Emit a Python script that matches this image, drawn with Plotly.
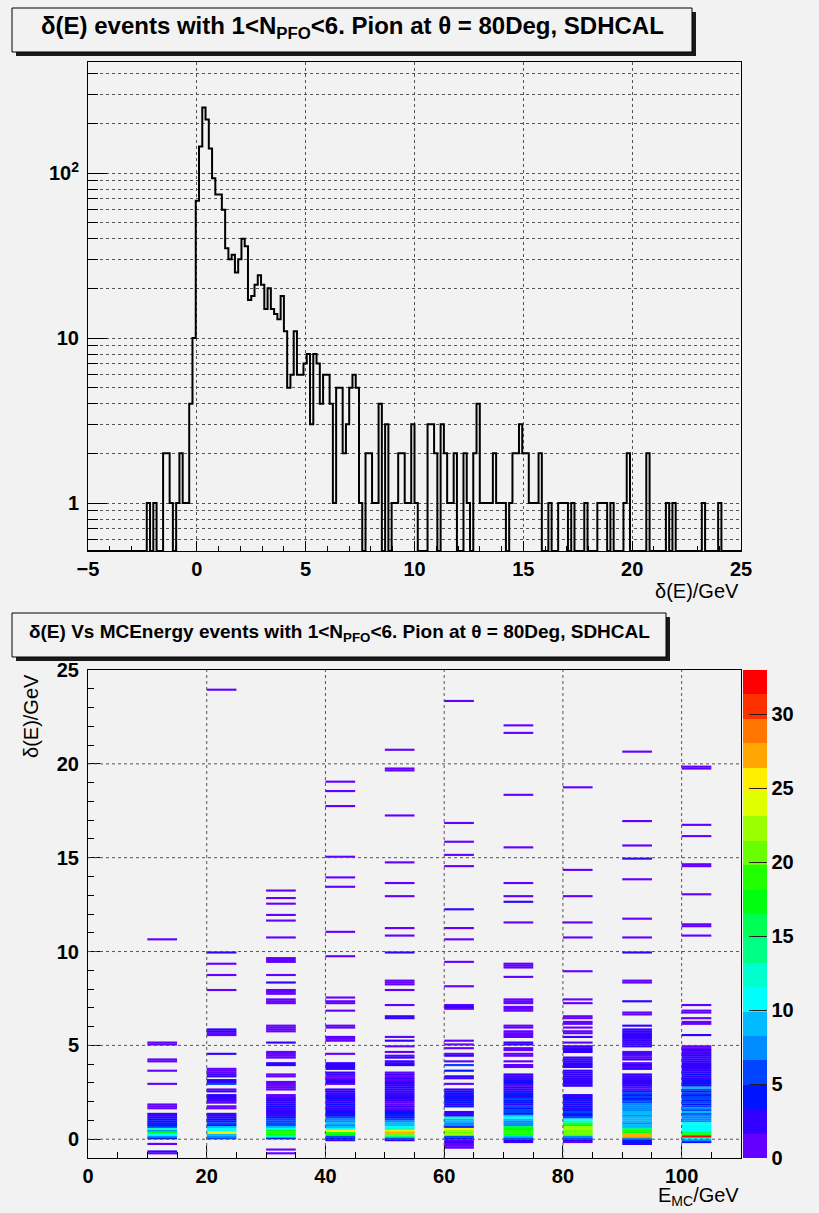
import colorsys
import math
import plotly.graph_objects as go

W, H = 819, 1213
FONT = "Liberation Sans, Arial, Helvetica, sans-serif"
BG = "#f2f2f2"

# ---------------- top histogram: delta(E) ----------------
hist_lo, hist_hi, hist_nbins = -5.0, 25.0, 200
hist_counts = [
    0, 0, 0, 0, 0, 0, 0, 0, 0, 0, 0, 0, 0, 0, 0, 0, 0, 0, 1, 0,
    1, 0, 0, 2, 2, 1, 0, 1, 2, 1, 1, 4, 10, 68, 145, 250, 211, 141, 93, 74,
    74, 60, 35, 30, 32, 25, 30, 40, 36, 17, 18, 21, 24, 21, 15, 20, 15, 14, 13, 18,
    11, 5, 6, 11, 6, 6, 7, 8, 3, 8, 7, 4, 6, 6, 4, 1, 5, 5, 2, 3,
    5, 6, 5, 1, 0, 2, 2, 1, 1, 4, 0, 3, 0, 1, 1, 2, 2, 1, 1, 3,
    1, 0, 0, 0, 3, 3, 2, 0, 3, 2, 1, 1, 2, 0, 0, 2, 1, 0, 2, 4,
    1, 1, 1, 1, 2, 1, 1, 1, 0, 1, 2, 2, 3, 2, 2, 1, 1, 1, 2, 0,
    0, 1, 0, 0, 1, 1, 1, 0, 1, 0, 0, 0, 1, 0, 0, 0, 1, 1, 1, 0,
    1, 0, 0, 0, 1, 2, 0, 0, 0, 0, 0, 2, 0, 0, 0, 0, 0, 1, 0, 1,
    0, 0, 0, 0, 0, 0, 0, 0, 1, 0, 0, 0, 0, 1, 0, 0, 0, 0, 0, 0,
]
hist_ymin, hist_ymax = 0.512, 471.0
hist_xticks = [-5, 0, 5, 10, 15, 20, 25]
hist_yticks = [1, 10, 100]
hist_yticktext = ["1", "10", "10<sup>2</sup>"]
hist_yminor = [0.6, 0.7, 0.8, 0.9, 2, 3, 4, 5, 6, 7, 8, 9,
               20, 30, 40, 50, 60, 70, 80, 90, 200, 300, 400]

# ---------------- 2D map: delta(E) vs E_MC ----------------
e_lo, e_hi, e_w = 0.0, 110.0, 5.0
d_lo, d_hi, d_w = -1.0, 25.0, 0.1
z_max = 33
energies = [10, 20, 30, 40, 50, 60, 70, 80, 90, 100]
# (lower edge of delta(E) bin, entries)
e10 = [(10.6, 1), (5.1, 1), (5.0, 1), (4.2, 1), (4.1, 1), (3.6, 1), (2.9, 1), (1.8, 1), (1.7, 1), (1.6, 1),
       (1.3, 2), (1.2, 2), (1.1, 3), (1.0, 4), (0.9, 4), (0.8, 3), (0.7, 4), (0.6, 5), (0.5, 12), (0.4, 7),
       (0.3, 17), (0.2, 10), (0.1, 7), (0.0, 4), (-0.3, 1), (-0.7, 2), (-0.8, 1)]
e20 = [(23.9, 1), (9.9, 2), (9.3, 1), (8.7, 1), (7.9, 1), (5.8, 2), (5.7, 2), (5.6, 1), (5.5, 1), (4.5, 2),
       (3.7, 1), (3.6, 1), (3.5, 1), (3.4, 2), (3.3, 2), (3.1, 3), (3.0, 3), (2.9, 5), (2.6, 1), (2.5, 2),
       (2.3, 2), (2.2, 3), (2.1, 2), (2.0, 2), (1.9, 1), (1.7, 1), (1.6, 1),
       (1.3, 2), (1.2, 3), (1.1, 3), (1.0, 4), (0.9, 3), (0.8, 5), (0.7, 4), (0.6, 9), (0.5, 10), (0.4, 11),
       (0.3, 25), (0.2, 9), (0.1, 7), (0.0, 6)]
e30 = [(13.2, 1), (12.8, 1), (12.5, 1), (11.9, 1), (11.6, 1), (10.7, 1), (9.6, 1), (9.5, 1), (9.4, 1), (8.7, 1),
       (8.3, 2), (7.9, 1), (7.8, 1), (7.7, 1), (7.4, 1), (7.3, 1), (7.2, 1), (6.0, 1), (5.9, 1), (5.8, 1),
       (5.7, 1), (5.1, 2), (4.6, 1), (4.5, 1), (4.4, 1), (4.3, 1), (4.0, 2), (3.9, 2), (3.4, 1), (3.3, 1),
       (3.0, 1), (2.9, 1), (2.8, 1), (2.7, 1), (2.6, 1),
       (2.3, 1), (2.2, 1), (2.1, 2), (2.0, 2), (1.9, 2), (1.8, 2), (1.7, 4), (1.6, 3), (1.5, 2), (1.4, 3),
       (1.3, 3), (1.2, 2), (1.1, 4), (1.0, 6), (0.9, 6), (0.8, 6), (0.7, 5), (0.6, 9), (0.5, 10), (0.4, 18),
       (0.3, 19), (0.2, 17), (0.1, 13), (0.0, 4), (-0.6, 1), (-0.8, 1)]
e40 = [(19.0, 1), (18.5, 1), (17.7, 1), (15.0, 1), (13.9, 1), (13.4, 1), (11.0, 1), (9.7, 1),
       (7.5, 1), (7.3, 1), (7.2, 1), (6.8, 1), (6.0, 1), (5.9, 1), (5.4, 1), (5.3, 1), (5.2, 1), (4.5, 1),
       (4.0, 2), (3.9, 2), (3.8, 2), (3.7, 2), (3.5, 2), (3.4, 2), (3.3, 1), (3.2, 1), (3.1, 2), (3.0, 2), (2.9, 1),
       (2.6, 2), (2.5, 3), (2.4, 2), (2.3, 3), (2.2, 3), (2.1, 4), (2.0, 3), (1.9, 3), (1.8, 4), (1.7, 3),
       (1.6, 2), (1.5, 3), (1.4, 4), (1.3, 3), (1.2, 4), (1.1, 5), (1.0, 7), (0.9, 7), (0.8, 9), (0.7, 8),
       (0.6, 9), (0.5, 10), (0.4, 25), (0.3, 19), (0.2, 18), (0.1, 6), (0.0, 4), (-0.1, 2)]
e50 = [(20.7, 1), (19.7, 1), (19.6, 1), (17.2, 1), (14.7, 1), (13.6, 1), (12.9, 1), (11.2, 1), (10.8, 1), (9.9, 2),
       (8.4, 1), (8.3, 1), (8.2, 1), (7.9, 1), (7.1, 1), (6.5, 2), (6.4, 2), (5.4, 1), (5.2, 2), (4.9, 1),
       (4.6, 1), (4.4, 1), (4.3, 2), (4.1, 2), (4.0, 2), (3.9, 2),
       (3.5, 1), (3.4, 2), (3.3, 1), (3.2, 2), (3.1, 1), (3.0, 2), (2.9, 3), (2.8, 2), (2.7, 3), (2.6, 3),
       (2.5, 2), (2.4, 3), (2.3, 3), (2.2, 2), (2.1, 3), (2.0, 2), (1.9, 1), (1.8, 1), (1.7, 2), (1.6, 1),
       (1.5, 3), (1.4, 4), (1.3, 4), (1.2, 3), (1.1, 4), (1.0, 5), (0.9, 7), (0.8, 9), (0.7, 9), (0.6, 10),
       (0.5, 12), (0.4, 25), (0.3, 28), (0.2, 20), (0.1, 14), (0.0, 5), (-0.1, 3)]
e60 = [(23.3, 1), (16.8, 1), (15.8, 1), (15.1, 1), (14.5, 1), (12.2, 2), (11.2, 1), (10.6, 1), (9.4, 1), (8.1, 1),
       (7.1, 1), (7.0, 2), (6.9, 1), (5.2, 1), (5.0, 1), (4.8, 1), (4.5, 1), (4.4, 2), (4.1, 1), (3.9, 5),
       (3.6, 4), (3.3, 3), (3.2, 3), (2.9, 1),
       (2.6, 2), (2.5, 3), (2.4, 4), (2.3, 3), (2.2, 4), (2.1, 3), (2.0, 4), (1.9, 4), (1.8, 3), (1.7, 4),
       (1.4, 3), (1.3, 3), (1.2, 2), (1.1, 12), (1.0, 9), (0.9, 9), (0.8, 8), (0.7, 7), (0.6, 4), (0.5, 25),
       (0.4, 22), (0.3, 21), (0.2, 22), (0.1, 5), (0.0, 4),
       (-0.1, 1), (-0.2, 2), (-0.3, 1), (-0.4, 1), (-0.5, 1)]
e70 = [(22.0, 1), (21.6, 1), (18.3, 1), (15.5, 1), (13.6, 1), (12.9, 1), (12.6, 2), (11.5, 1), (9.3, 1), (9.2, 1),
       (9.1, 1), (8.6, 1), (7.4, 1), (7.3, 1), (7.2, 1), (7.0, 1), (6.9, 1), (6.8, 1), (6.0, 1), (5.9, 1),
       (5.7, 1), (5.6, 1), (5.5, 1), (5.4, 1), (5.1, 2), (5.0, 2), (4.8, 1), (4.7, 1), (4.5, 1), (4.4, 1),
       (4.1, 1), (3.9, 1), (3.8, 1),
       (3.4, 2), (3.3, 2), (3.2, 3), (3.1, 3), (3.0, 4), (2.9, 2), (2.8, 1), (2.7, 2), (2.6, 3), (2.5, 3),
       (2.4, 4), (2.3, 4), (2.2, 3), (2.1, 5), (2.0, 4), (1.9, 4), (1.8, 3), (1.7, 5), (1.6, 4), (1.5, 5),
       (1.4, 5), (1.3, 4), (1.2, 9), (1.1, 10), (1.0, 9), (0.9, 7), (0.8, 8), (0.7, 7), (0.6, 15), (0.5, 18),
       (0.4, 19), (0.3, 19), (0.2, 18), (0.1, 9), (0.0, 5), (-0.1, 3), (-0.2, 2)]
e80 = [(18.7, 1), (14.3, 1), (12.9, 1), (11.5, 1), (10.7, 1), (8.9, 1),
       (7.4, 1), (7.2, 1), (6.5, 1), (6.4, 1), (6.2, 1), (6.1, 1), (5.9, 1), (5.7, 1), (5.6, 1), (5.4, 2),
       (5.1, 1), (4.9, 2), (4.8, 2), (4.7, 2), (4.6, 2),
       (4.3, 2), (4.2, 2), (4.1, 2), (4.0, 2), (3.9, 2), (3.8, 2), (3.6, 2), (3.5, 3), (3.4, 2), (3.3, 3),
       (3.2, 2), (3.1, 2), (3.0, 3), (2.9, 2), (2.8, 2),
       (2.3, 2), (2.2, 3), (2.1, 4), (2.0, 3), (1.9, 4), (1.8, 3), (1.7, 4), (1.6, 3), (1.5, 4), (1.4, 5),
       (1.3, 4), (1.2, 4), (1.1, 5), (1.0, 10), (0.9, 13), (0.8, 14), (0.7, 17), (0.6, 22), (0.5, 23),
       (0.4, 21), (0.3, 21), (0.2, 20), (0.1, 7), (0.0, 6), (-0.1, 2), (-0.2, 1)]
e90 = [(20.6, 1), (16.9, 1), (15.6, 1), (14.9, 2), (13.8, 1), (11.7, 1), (10.7, 1), (9.9, 2), (8.4, 1), (8.3, 1),
       (7.3, 2), (6.7, 1), (6.6, 1), (6.0, 2), (5.8, 2), (5.7, 3), (5.6, 2), (5.5, 3), (5.4, 2), (5.3, 3),
       (5.2, 3), (5.1, 2), (5.0, 3), (4.9, 3), (4.6, 1), (4.5, 2), (4.4, 1), (4.3, 1), (4.2, 2), (4.0, 1),
       (3.9, 2), (3.8, 1), (3.7, 2),
       (3.4, 2), (3.3, 3), (3.2, 2), (3.1, 3), (3.0, 2), (2.9, 3), (2.8, 3), (2.7, 1), (2.6, 1), (2.5, 4),
       (2.4, 5), (2.3, 4), (2.2, 5), (2.1, 4), (2.0, 5), (1.9, 6), (1.8, 7), (1.7, 7), (1.6, 8), (1.5, 8),
       (1.4, 9), (1.3, 9), (1.2, 8), (1.1, 9), (1.0, 9), (0.9, 9), (0.8, 8), (0.7, 9), (0.6, 9), (0.5, 14),
       (0.4, 19), (0.3, 18), (0.2, 27), (0.1, 28), (0.0, 7), (-0.1, 4), (-0.2, 4), (-0.3, 3)]
e100 = [(19.8, 1), (19.7, 1), (16.7, 1), (16.1, 1), (14.6, 1), (14.5, 1), (13.0, 1), (11.4, 1), (11.3, 1), (10.8, 1),
        (7.1, 1), (6.8, 1), (6.7, 1), (6.4, 1), (6.2, 1), (6.1, 1), (5.5, 2),
        (4.9, 1), (4.8, 1), (4.7, 2), (4.6, 1), (4.5, 2), (4.4, 2), (4.3, 3), (4.2, 3), (4.1, 3), (4.0, 2),
        (3.9, 3), (3.8, 3), (3.7, 2), (3.6, 3), (3.5, 3), (3.4, 4), (3.3, 3), (3.2, 2), (3.1, 4), (3.0, 2),
        (2.9, 4), (2.8, 3), (2.7, 9), (2.6, 5), (2.5, 4), (2.4, 5), (2.3, 4), (2.2, 5), (2.1, 5), (2.0, 4),
        (1.9, 5), (1.8, 4), (1.7, 5), (1.6, 7), (1.5, 5), (1.4, 9), (1.3, 5), (1.2, 7), (1.1, 7), (1.0, 7),
        (0.9, 7), (0.8, 11), (0.7, 10), (0.6, 11), (0.5, 11), (0.4, 11), (0.3, 16), (0.2, 19), (0.1, 33),
        (0.0, 11), (-0.1, 7), (-0.2, 4)]
columns = [e10, e20, e30, e40, e50, e60, e70, e80, e90, e100]
map_xticks = [0, 20, 40, 60, 80, 100]
map_yticks = [0, 5, 10, 15, 20, 25]
cbar_ticks = [0, 5, 10, 15, 20, 25, 30]

# ---------------- helpers ----------------
def px(x):
    return x / W

def py(y):
    return 1 - y / H

MAP_TOP, MAP_BOT = 670, 1158

# ROOT "pretty" palette, 20 contour bands
n_bands = 20
band_colors = []
for j in range(n_bands):
    idx = int((j + 0.99) * 50 / n_bands)
    hue = 280 - (idx + 1) * 5.6
    r, g, b = colorsys.hls_to_rgb(hue / 360.0, 0.5, 1.0)
    band_colors.append("rgb(%d,%d,%d)" % (round(r * 255), round(g * 255), round(b * 255)))
colorscale = []
for j, c in enumerate(band_colors):
    colorscale.append([j / n_bands, c])
    colorscale.append([(j + 1) / n_bands, c])

# histogram step outline
hist_w = (hist_hi - hist_lo) / hist_nbins
hx = [hist_lo + i * hist_w for i in range(hist_nbins + 1)]
hy = [c if c > 0 else hist_ymin for c in hist_counts]
hy = hy + [hy[-1]]

fig = go.Figure()
fig.add_trace(go.Scatter(x=hx, y=hy, mode="lines", line=dict(shape="hv", color="black", width=2),
                         xaxis="x", yaxis="y", showlegend=False, hoverinfo="skip"))

# 2D map cells: each filled (E, delta) bin drawn as a horizontal segment one bin thick,
# coloured by its contour band
band_w = z_max / n_bands
cell_px = (MAP_BOT - MAP_TOP) / ((d_hi - d_lo) / d_w)
groups = {}
for E, col in zip(energies, columns):
    agg = {}
    for yv, n in col:
        key = int(round((yv - d_lo) / d_w))
        agg[key] = agg.get(key, 0) + n
    for key, n in agg.items():
        j = min(int(n / band_w), n_bands - 1)
        ycen = d_lo + (key + 0.5) * d_w
        gx, gy = groups.setdefault(j, ([], []))
        gx.extend([E, E + e_w, None])
        gy.extend([ycen, ycen, None])
for j in sorted(groups):
    gx, gy = groups[j]
    fig.add_trace(go.Scatter(x=gx, y=gy, mode="lines", xaxis="x2", yaxis="y2",
                             line=dict(color=band_colors[j], width=cell_px + 0.25),
                             showlegend=False, hoverinfo="skip"))

# colour scale (palette axis)
fig.add_trace(go.Scatter(
    x=[e_lo - 50], y=[d_lo - 50], mode="markers", xaxis="x2", yaxis="y2", showlegend=False,
    hoverinfo="skip",
    marker=dict(color=[0], cmin=0, cmax=z_max, colorscale=colorscale, size=2, showscale=True,
                colorbar=dict(x=px(743), xanchor="left", xref="paper", xpad=0, ypad=0,
                              y=py(MAP_BOT), yanchor="bottom", len=(MAP_BOT - MAP_TOP) / H,
                              lenmode="fraction", thickness=24, thicknessmode="pixels",
                              outlinewidth=0, tickmode="array", tickvals=cbar_ticks,
                              ticks="inside", ticklen=18, tickcolor="#222", tickwidth=1,
                              tickfont=dict(family=FONT, size=20, color="black", weight="bold")))))

axis_common = dict(showline=True, linecolor="black", linewidth=1, mirror=True, zeroline=False,
                   gridcolor="#555", griddash="dot", gridwidth=1,
                   ticks="inside", tickcolor="black", automargin=False,
                   tickfont=dict(family=FONT, size=20, color="black", weight="bold"))

fig.update_layout(
    width=W, height=H, margin=dict(l=0, r=0, t=0, b=0, autoexpand=False),
    paper_bgcolor=BG, plot_bgcolor=BG, showlegend=False,
    xaxis=dict(domain=[px(88), px(741)], range=[hist_lo, hist_hi], anchor="y", showgrid=True,
               tickmode="array", tickvals=hist_xticks, ticklen=10,
               minor=dict(dtick=1, ticklen=5, showgrid=False, ticks="inside", tickcolor="black"),
               **axis_common),
    yaxis=dict(domain=[py(551), py(62)], type="log", anchor="x", showgrid=True,
               range=[math.log10(hist_ymin), math.log10(hist_ymax)],
               tickmode="array", tickvals=hist_yticks, ticktext=hist_yticktext, ticklen=19,
               ticklabelstandoff=4,
               minor=dict(tickmode="array", tickvals=hist_yminor, ticklen=10, ticks="inside",
                          tickcolor="black", showgrid=True, gridcolor="#555", griddash="dot"),
               **axis_common),
    xaxis2=dict(domain=[px(88), px(741)], range=[e_lo, e_hi], anchor="y2", showgrid=False,
                tickmode="array", tickvals=map_xticks, ticklen=12,
                minor=dict(dtick=5, ticklen=6, showgrid=False, ticks="inside", tickcolor="black"),
                **axis_common),
    yaxis2=dict(domain=[py(MAP_BOT), py(MAP_TOP)], range=[d_lo, d_hi], anchor="x2", showgrid=False,
                tickmode="array", tickvals=map_yticks, ticklen=12, ticklabelstandoff=4,
                minor=dict(dtick=1, ticklen=6, showgrid=False, ticks="inside", tickcolor="black"),
                **axis_common),
)

shapes = []
annotations = []

# grid of the 2D map drawn above the cells (as ROOT does)
for gxv in map_xticks[1:]:
    shapes.append(dict(type="line", xref="x2", yref="y2 domain", x0=gxv, x1=gxv, y0=0, y1=1,
                       layer="above", line=dict(color="#555", width=1, dash="dot")))
for gyv in map_yticks[:-1]:
    shapes.append(dict(type="line", xref="x2 domain", yref="y2", x0=0, x1=1, y0=gyv, y1=gyv,
                       layer="above", line=dict(color="#555", width=1, dash="dot")))

def title_box(x0, y0, x1, y1, text, size):
    shapes.append(dict(type="rect", xref="paper", yref="paper", x0=px(x0 + 4), x1=px(x1 + 4),
                       y0=py(y1 + 4), y1=py(y0 + 4), fillcolor="#1a1a1a", line=dict(width=0)))
    shapes.append(dict(type="rect", xref="paper", yref="paper", x0=px(x0), x1=px(x1),
                       y0=py(y1), y1=py(y0), fillcolor=BG, line=dict(color="black", width=1)))
    annotations.append(dict(xref="paper", yref="paper", x=px((x0 + x1) / 2), y=py((y0 + y1) / 2 - 2),
                            xanchor="center", yanchor="middle", showarrow=False, text=text,
                            font=dict(family=FONT, size=size, color="black", weight="bold")))

title_box(12, 8, 692, 52,
          "δ(E) events with 1&lt;N<sub>PFO</sub>&lt;6. Pion at θ = 80Deg, SDHCAL", 24)
title_box(12, 613, 666, 657,
          "δ(E) Vs MCEnergy events with 1&lt;N<sub>PFO</sub>&lt;6. Pion at θ = 80Deg, SDHCAL", 19)

annotations.append(dict(xref="paper", yref="paper", x=px(741), y=py(591), xanchor="right",
                        yanchor="middle", showarrow=False, text="δ(E)/GeV",
                        font=dict(family=FONT, size=20, color="black")))
annotations.append(dict(xref="paper", yref="paper", x=px(741), y=py(1196), xanchor="right",
                        yanchor="middle", showarrow=False, text="E<sub>MC</sub>/GeV",
                        font=dict(family=FONT, size=20, color="black")))
annotations.append(dict(xref="paper", yref="paper", x=px(31), y=py(672), xanchor="center",
                        yanchor="top", showarrow=False, text="δ(E)/GeV", textangle=-90,
                        font=dict(family=FONT, size=20, color="black")))

fig.update_layout(shapes=shapes, annotations=annotations)
fig.write_html("out.html")
